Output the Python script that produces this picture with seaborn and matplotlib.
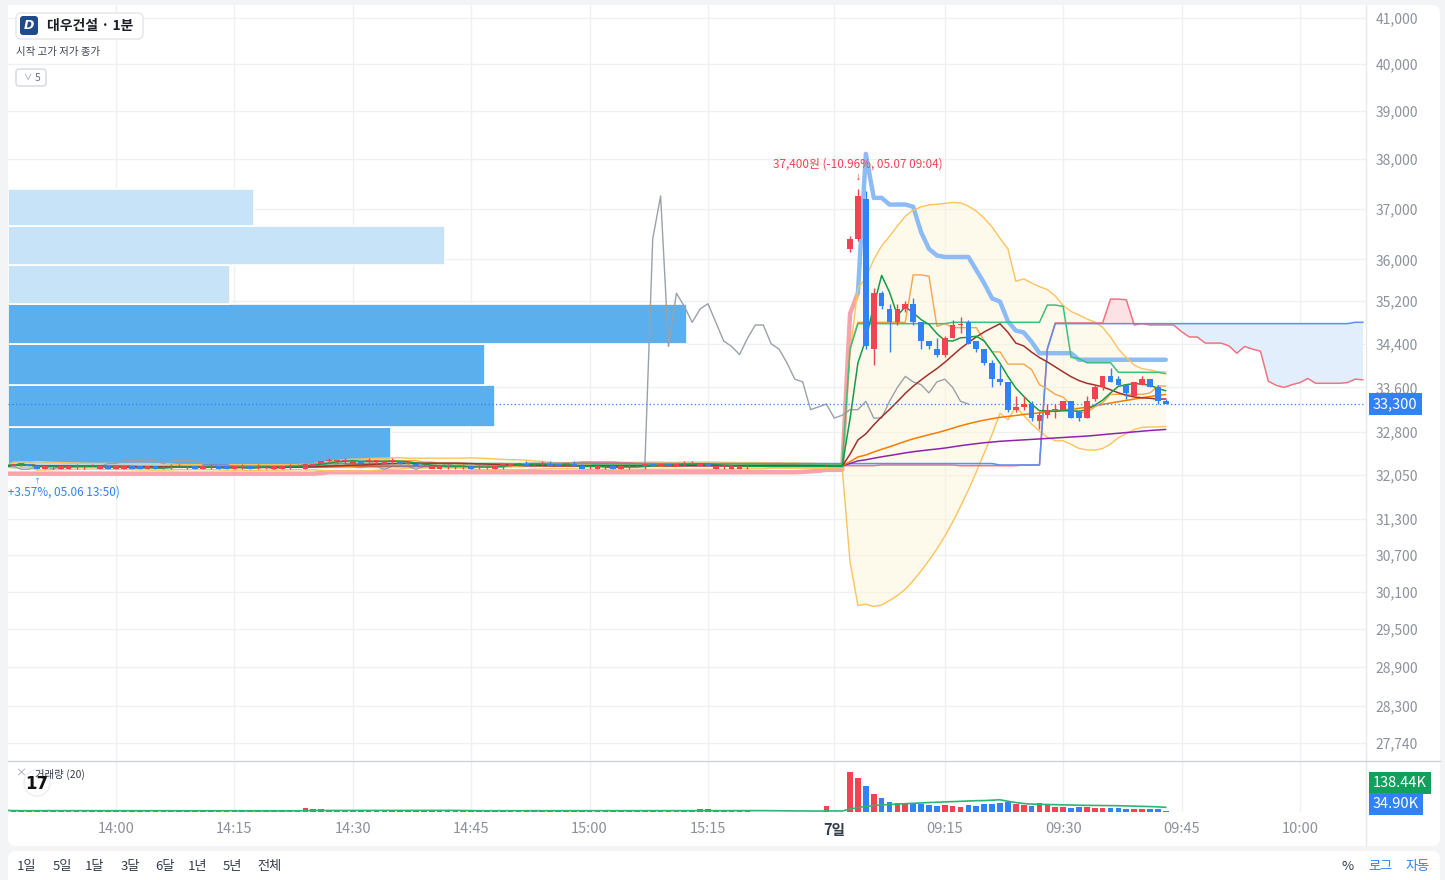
import numpy as np
import pandas as pd
import matplotlib
matplotlib.use("Agg")
import matplotlib.pyplot as plt
import matplotlib.transforms as mtrans
from matplotlib.patches import FancyBboxPatch, Rectangle, Circle
from matplotlib.lines import Line2D
from matplotlib.ticker import FixedLocator, NullLocator, FuncFormatter
import seaborn as sns

sns.set_theme(style="white")
# Korean text needs a CJK family, DejaVu as fallback for symbols
plt.rcParams['font.family'] = ['Noto Sans CJK KR', 'DejaVu Sans']
plt.rcParams['axes.unicode_minus'] = False

# ---------------- data ----------------
# bar index: 14:00 on 05.06 is bar 0, one bar per minute (TradingView style axis)
first_idx = -14

# 05.06 13:46 .. 15:20 (95 one-minute bars)
o1 = [32250, 32200, 32250, 32250, 32200, 32150, 32200, 32150, 32150, 32200, 32200, 32200, 32150, 32200,
      32150, 32150, 32200, 32200, 32150, 32200, 32200, 32200, 32200, 32200, 32200, 32150, 32200, 32200,
      32200, 32150, 32200, 32200, 32200, 32200, 32150, 32150, 32200, 32200,
      32150, 32200, 32250, 32300, 32300, 32300, 32250, 32300, 32300, 32300, 32250, 32300, 32300, 32250,
      32250, 32200, 32150, 32150, 32200, 32200, 32200, 32200, 32200, 32200, 32150, 32200, 32200, 32250,
      32250, 32250, 32250, 32250, 32250, 32250, 32250, 32200, 32200, 32150, 32200, 32200, 32150, 32200,
      32200, 32200, 32250, 32200, 32250, 32200, 32250, 32250, 32200, 32250, 32150, 32200, 32150, 32150,
      32200]
h1 = [32250, 32250, 32250, 32250, 32200, 32200, 32200, 32200, 32200, 32250, 32200, 32250, 32200, 32200,
      32200, 32200, 32200, 32200, 32200, 32200, 32200, 32250, 32250, 32200, 32200, 32200, 32250, 32200,
      32200, 32200, 32250, 32200, 32250, 32200, 32200, 32200, 32250, 32250,
      32250, 32250, 32300, 32350, 32300, 32350, 32300, 32300, 32350, 32300, 32300, 32350, 32300, 32300,
      32250, 32250, 32200, 32200, 32250, 32200, 32250, 32200, 32250, 32200, 32200, 32250, 32250, 32250,
      32300, 32250, 32300, 32300, 32250, 32250, 32300, 32250, 32200, 32250, 32200, 32250, 32200, 32250,
      32250, 32250, 32250, 32250, 32250, 32250, 32300, 32300, 32250, 32250, 32200, 32250, 32200, 32200,
      32250]
l1 = [32200, 32200, 32200, 32200, 32150, 32150, 32150, 32150, 32150, 32150, 32150, 32200, 32150, 32150,
      32150, 32150, 32150, 32150, 32150, 32150, 32150, 32150, 32200, 32150, 32150, 32150, 32150, 32150,
      32150, 32150, 32150, 32150, 32150, 32150, 32150, 32150, 32150, 32200,
      32150, 32200, 32250, 32250, 32250, 32250, 32250, 32250, 32250, 32250, 32250, 32250, 32250, 32250,
      32250, 32200, 32200, 32150, 32150, 32150, 32150, 32150, 32150, 32150, 32150, 32150, 32200, 32200,
      32200, 32200, 32200, 32250, 32200, 32200, 32200, 32200, 32150, 32150, 32150, 32150, 32150, 32150,
      32200, 32150, 32200, 32200, 32200, 32200, 32200, 32250, 32200, 32200, 32150, 32150, 32150, 32150,
      32150]
c1 = [32200, 32250, 32250, 32200, 32150, 32200, 32200, 32200, 32200, 32200, 32200, 32200, 32200, 32150,
      32200, 32200, 32150, 32150, 32200, 32150, 32200, 32200, 32200, 32200, 32150, 32200, 32200, 32150,
      32150, 32200, 32200, 32150, 32200, 32200, 32200, 32200, 32200, 32200,
      32250, 32250, 32300, 32300, 32300, 32300, 32300, 32250, 32300, 32300, 32300, 32300, 32250, 32250,
      32200, 32200, 32200, 32200, 32200, 32200, 32200, 32150, 32200, 32200, 32200, 32250, 32250, 32250,
      32200, 32250, 32250, 32200, 32200, 32250, 32200, 32150, 32200, 32200, 32200, 32150, 32200, 32200,
      32200, 32250, 32200, 32250, 32200, 32250, 32250, 32250, 32250, 32200, 32200, 32200, 32200, 32200,
      32200]
v1 = [45, 38, 30, 42, 55, 35, 32, 40, 36, 30, 34, 41, 38, 44,
      36, 40, 47, 39, 33, 42, 30, 28, 35, 31, 44, 37, 29, 41, 46, 38, 30, 43, 32, 29, 40, 37, 31, 35,
      118, 92, 80, 44, 39, 36, 48, 42, 33, 31, 45, 30, 50, 38,
      41, 35, 44, 40, 30, 29, 33, 46, 31, 30, 42, 48, 52, 35, 44, 30, 32, 47, 45, 31,
      43, 49, 30, 41, 29, 46, 38, 30, 33, 50, 44, 47, 41, 46, 32, 30, 95, 88, 44, 36,
      41, 39, 35]

# closing auction bars (no trades) and 05.07 09:00 .. 09:02
o_gap = [32200, 32200, 32200, 32200, 32200, 32200, 32200, 32200, 32200, 32200, 32200, 32200]
h_gap = [32200, 32200, 32200, 32200, 32200, 32200, 32200, 32200, 32200, 32250, 32200, 32200]
l_gap = [32200, 32200, 32200, 32200, 32200, 32200, 32200, 32200, 32200, 32200, 32200, 32200]
c_gap = [32200, 32200, 32200, 32200, 32200, 32200, 32200, 32200, 32200, 32200, 32200, 32200]
v_gap = [0, 0, 0, 0, 0, 0, 0, 0, 0, 177, 0, 0]

# 05.07 09:03 .. 09:43
o2 = [36200, 36400, 37200, 34300, 35350, 35050, 34800, 35050, 35150, 34800, 34450, 34300, 34200, 34500,
      34750, 34800, 34450, 34300, 34050, 33750, 33700, 33200, 33250, 33300, 33000, 33100, 33200, 33200,
      33350, 33150, 33050, 33400, 33600, 33800, 33750, 33650, 33450, 33650, 33750, 33600, 33350]
h2 = [36450, 37400, 37350, 35450, 35400, 35150, 35150, 35200, 35250, 34800, 34450, 34500, 34550, 34850,
      34900, 34850, 34450, 34300, 34100, 34000, 33700, 33450, 33450, 33350, 33150, 33300, 33300, 33350,
      33350, 33200, 33450, 33650, 33800, 33950, 33800, 33650, 33700, 33800, 33750, 33650, 33400]
l2 = [36150, 36350, 34300, 34000, 35050, 34250, 34750, 35000, 34750, 34300, 34300, 34150, 34150, 34500,
      34600, 34400, 34250, 34000, 33600, 33650, 33150, 33150, 33200, 33000, 32850, 33050, 33050, 33200,
      33050, 33000, 33050, 33350, 33550, 33700, 33650, 33400, 33450, 33650, 33600, 33300, 33300]
c2 = [36400, 37250, 34350, 35350, 35100, 34800, 35050, 35150, 34800, 34450, 34350, 34200, 34500, 34750,
      34750, 34400, 34300, 34050, 33750, 33700, 33200, 33250, 33300, 33050, 33100, 33200, 33200, 33350,
      33050, 33050, 33350, 33600, 33800, 33700, 33650, 33500, 33700, 33750, 33600, 33350, 33300]
# volume in thousand shares
v2 = [1180, 1000, 770, 530, 410, 300, 265, 235, 265, 235, 205, 180, 205, 180,
      150, 205, 180, 235, 235, 265, 295, 235, 205, 180, 265, 205, 150, 150,
      120, 150, 150, 113.9, 120, 120, 120, 90, 90, 90, 90, 90, 34.9]

hi_time = "05.07 09:04"
lo_time = "05.06 13:50"

# volume profile rows, bottom to top (thousand shares)
vp_volume = [5640, 7170, 7020, 10000, 3270, 6430, 3620]
vp_value_area = [True, True, True, True, False, False, False]

# axis ticks
x_tick_pos = [0, 15, 30, 45, 60, 75, 91, 105, 120, 135, 150]
x_tick_lab = ["14:00", "14:15", "14:30", "14:45", "15:00", "15:15", "7일", "09:15", "09:30", "09:45", "10:00"]
y_ticks = [41000, 40000, 39000, 38000, 37000, 36000, 35200, 34400, 33600, 32800, 32050,
           31300, 30700, 30100, 29500, 28900, 28300, 27740]
periods = ["1일", "5일", "1달", "3달", "6달", "1년", "5년", "전체"]

# ---------------- indicators ----------------
o = np.array(o1 + o_gap + o2, float)
h = np.array(h1 + h_gap + h2, float)
l = np.array(l1 + l_gap + l2, float)
c = np.array(c1 + c_gap + c2, float)
v = np.array(v1 + v_gap + v2, float)
idx = np.arange(first_idx, first_idx + len(c))
df = pd.DataFrame(dict(o=o, h=h, l=l, c=c, v=v), index=idx)

for n_ in (5, 20, 60, 120):
    df[f"sma{n_}"] = df.c.rolling(n_, min_periods=1).mean()
std20 = df.c.rolling(20, min_periods=1).std(ddof=0)
df["bb_up"] = df.sma20 + 2 * std20
df["bb_lo"] = df.sma20 - 2 * std20

def mid(n_):
    return (df.h.rolling(n_, min_periods=1).max() + df.l.rolling(n_, min_periods=1).min()) / 2

tenkan = mid(9)
kijun = mid(26)
shift = 25
ext = np.arange(idx[0], idx[-1] + shift + 1)
span_a = pd.Series(((tenkan + kijun) / 2).values, index=idx + shift).reindex(ext).values
span_b = pd.Series(mid(52).values, index=idx + shift).reindex(ext).values

# supertrend (10, 3)
prev_c = df.c.shift(1)
tr = pd.concat([df.h - df.l, (df.h - prev_c).abs(), (df.l - prev_c).abs()], axis=1).max(axis=1)
atr = tr.ewm(alpha=1 / 10, adjust=False).mean()
hl2 = (df.h + df.l) / 2
bu = (hl2 + 3 * atr).values
bl = (hl2 - 3 * atr).values
fu, fl = bu.copy(), bl.copy()
trend = np.ones(len(df), int)
cc = df.c.values
for i in range(1, len(df)):
    fu[i] = bu[i] if (bu[i] < fu[i - 1] or cc[i - 1] > fu[i - 1]) else fu[i - 1]
    fl[i] = bl[i] if (bl[i] > fl[i - 1] or cc[i - 1] < fl[i - 1]) else fl[i - 1]
    if trend[i - 1] == 1 and cc[i] < fl[i]:
        trend[i] = -1
    elif trend[i - 1] == -1 and cc[i] > fu[i]:
        trend[i] = 1
    else:
        trend[i] = trend[i - 1]
st = np.where(trend == 1, fl, fu)
st_up = np.where(trend == 1, st, np.nan)
st_dn = np.where(trend == -1, st, np.nan)
for i in range(1, len(df)):
    if trend[i] != trend[i - 1]:
        if trend[i] == -1:
            st_dn[i - 1] = st[i - 1]
        else:
            st_up[i - 1] = st[i - 1]

df["vol_ma"] = df.v.rolling(20, min_periods=1).mean()

# ---------------- figure ----------------
W, H = 1445, 880
fig = plt.figure(figsize=(W / 100, H / 100), dpi=100, facecolor="#f3f4f6")
ident = mtrans.IdentityTransform()

def box(x0, y0, x1, y1):
    return [x0 / W, 1 - y1 / H, (x1 - x0) / W, (y1 - y0) / H]

def rbox(x0, y0, x1, y1, r, **kw):
    p = FancyBboxPatch((x0, H - y1), x1 - x0, y1 - y0,
                       boxstyle=f"round,pad=0,rounding_size={r}", transform=ident, **kw)
    fig.add_artist(p)
    return p

def ftext(x, y, s, **kw):
    return fig.text(x / W, 1 - y / H, s, **kw)

def fline(x0, y0, x1, y1, **kw):
    fig.add_artist(Line2D([x0 / W, x1 / W], [1 - y0 / H, 1 - y1 / H], transform=fig.transFigure, **kw))

# white panels
rbox(8, 5, 1440, 846, 8, fc="white", ec="none", zorder=-5)
rbox(8, 851, 1440, 895, 8, fc="white", ec="none", zorder=-5)

ax = fig.add_axes(box(8, 5, 1366, 760))
vax = fig.add_axes(box(8, 762, 1366, 812), sharex=ax)
for a in (ax, vax):
    a.set_facecolor("white")
    for s in a.spines.values():
        s.set_visible(False)

RED, BLUE = "#f04452", "#3182f6"
x0_lim = -108 / 7.893
ax.set_xlim(x0_lim, x0_lim + 1358 / 7.893)

ax.set_yscale("log")
ax.set_ylim(41000 * np.exp(-742 / 1856), 41000 * np.exp(13 / 1856))
ax.yaxis.set_major_locator(FixedLocator(y_ticks))
ax.yaxis.set_minor_locator(NullLocator())
ax.yaxis.set_major_formatter(FuncFormatter(lambda val, _: f"{val:,.0f}"))
ax.yaxis.tick_right()
ax.tick_params(axis="y", length=0, pad=7, labelsize=10, labelcolor="#8b929c")
ax.set_xticks(x_tick_pos)
ax.tick_params(axis="x", length=0, labelbottom=False)
ax.grid(True, color="#eff0f2", lw=1)
ax.set_axisbelow(True)

# volume profile (rows from the visible low to high)
lo, hi = df.l.min(), df.h.max()
rows = np.linspace(lo, hi, len(vp_volume) + 1)
vp_tr = mtrans.blended_transform_factory(ax.transAxes, ax.transData)
vmax_vp = max(vp_volume)
for k, vol in enumerate(vp_volume):
    ax.add_patch(Rectangle((0, rows[k]), 0.5 * vol / vmax_vp, rows[k + 1] - rows[k], transform=vp_tr,
                           fc="#5aafec" if vp_value_area[k] else "#c6e3f8", ec="white", lw=1.2, zorder=1))

# bollinger fill and ichimoku cloud
ax.fill_between(idx, df.bb_lo, df.bb_up, color="#fdf5df", alpha=0.6, lw=0, zorder=1.5)
ax.fill_between(ext, span_a, span_b, where=span_a >= span_b, color="#fde2e5", lw=0, zorder=1.6, interpolate=True)
ax.fill_between(ext, span_a, span_b, where=span_a < span_b, color="#e3eefc", lw=0, zorder=1.6, interpolate=True)

# lines
ax.plot(idx - shift, df.c, color="#9aa1aa", lw=1.0, zorder=2.4)
ax.plot(ext, span_a, color="#f27281", lw=1.1, zorder=2.5)
ax.plot(ext, span_b, color="#5b8ff0", lw=1.1, zorder=2.5)
ax.plot(idx, st_up, color="#f6a3ab", lw=3.2, zorder=2.2, solid_capstyle="round")
ax.plot(idx, st_dn, color="#8dbbf6", lw=3.2, zorder=2.2, solid_capstyle="round")
sns.lineplot(x=idx, y=df.bb_up.values, ax=ax, color="#fcc35c", lw=1.0, zorder=2.3)
sns.lineplot(x=idx, y=df.bb_lo.values, ax=ax, color="#fcc35c", lw=1.0, zorder=2.3)
sns.lineplot(x=idx, y=df.sma120.values, ax=ax, color="#8e24aa", lw=1.1, zorder=2.6)
sns.lineplot(x=idx, y=df.sma60.values, ax=ax, color="#f57c00", lw=1.1, zorder=2.6)
sns.lineplot(x=idx, y=tenkan.values, ax=ax, color="#f6a54a", lw=1.0, zorder=2.6)
sns.lineplot(x=idx, y=kijun.values, ax=ax, color="#3cbf7d", lw=1.1, zorder=2.6)
sns.lineplot(x=idx, y=df.sma20.values, ax=ax, color="#a0322d", lw=1.1, zorder=2.7)
sns.lineplot(x=idx, y=df.sma5.values, ax=ax, color="#139c4b", lw=1.1, zorder=2.7)

# candles (bars with trades only)
cd = df[df.v > 0]
col = np.where(cd.c >= cd.o, RED, BLUE)
ax.vlines(cd.index, cd.l, cd.h, colors=col, lw=1, zorder=4)
ax.bar(cd.index, np.maximum((cd.c - cd.o).abs(), 12), bottom=np.minimum(cd.o, cd.c),
       width=0.72, color=col, lw=0, zorder=4)

# last price line and label
last = df.c.iloc[-1]
ax.axhline(last, color=BLUE, ls=(0, (1, 2)), lw=0.9, zorder=3)
lab_tr = mtrans.blended_transform_factory(ax.transAxes, ax.transData)
ax.text(1 + 7 / 1358, last, f"{last:,.0f}", transform=lab_tr, ha="left", va="center", color="white",
        fontsize=10.5, clip_on=False, bbox=dict(boxstyle="square,pad=0.3", fc=BLUE, ec="none"))

# high / low markers
i_hi, i_lo = df.h.idxmax(), df.l.idxmin()
pct_hi = np.trunc((last - hi) / hi * 10000) / 100
pct_lo = np.trunc((last - lo) / lo * 10000) / 100
ax.annotate(f"{hi:,.0f}원 ({pct_hi:+.2f}%, {hi_time})", xy=(i_hi, hi), xytext=(0, 18),
            textcoords="offset points", ha="center", va="center", color=RED, fontsize=8.5, zorder=6)
ax.annotate("↓", xy=(i_hi, hi), xytext=(0, 8), textcoords="offset points", ha="center", va="center",
            color=RED, fontsize=5, zorder=6)
ax.annotate(f"{lo:,.0f}원 ({pct_lo:+.2f}%, {lo_time})", xy=(i_lo, lo), xytext=(0, -16.5),
            textcoords="offset points", ha="center", va="center", color=BLUE, fontsize=8.5,
            clip_on=True, zorder=6)
ax.annotate("↑", xy=(i_lo, lo), xytext=(0, -8.5), textcoords="offset points", ha="center", va="center",
            color=BLUE, fontsize=5, zorder=6)

# ---------------- volume pane ----------------
vcol = np.where(df.c >= df.o, RED, BLUE)
vax.bar(idx, df.v, width=0.72, color=vcol, lw=0, zorder=2)
sns.lineplot(x=idx, y=df.vol_ma.values, ax=vax, color="#2bb673", lw=1.2, zorder=3)
vax.set_ylim(0, df.v.max() / 0.8)
vax.set_yticks([])
vax.set_xticks(x_tick_pos)
vax.set_xticklabels(x_tick_lab)
vax.tick_params(axis="x", length=0, pad=7, labelsize=10.5, labelcolor="#8b929c")
for t in vax.get_xticklabels():
    if t.get_text() == "7일":
        t.set_fontweight("bold")
        t.set_color("#333d4b")
vax.grid(True, axis="x", color="#eff0f2", lw=1)
vax.set_axisbelow(True)
vax.set_xlabel("")
vax.set_ylabel("")
ax.set_xlabel("")
ax.set_ylabel("")

vma_last, v_last = df.vol_ma.iloc[-1], df.v.iloc[-1]
vax.text(1 + 7 / 1358, (812 - 783) / 50, f"{vma_last:.2f}K", transform=vax.transAxes, ha="left",
         va="center", color="white", fontsize=10.5, clip_on=False,
         bbox=dict(boxstyle="square,pad=0.25", fc="#12a15c", ec="none"))
vax.text(1 + 7 / 1358, (812 - 804) / 50, f"{v_last:.2f}K", transform=vax.transAxes, ha="left",
         va="center", color="white", fontsize=10.5, clip_on=False,
         bbox=dict(boxstyle="square,pad=0.25", fc=BLUE, ec="none"))

# separators
fline(1366, 5, 1366, 846, color="#e6e8eb", lw=1)
fline(8, 761, 1440, 761, color="#cfd3d8", lw=1)

# ---------------- header / legend ----------------
rbox(16, 13, 143, 39, 5, fc="white", ec="#e3e5e8", lw=1, zorder=2)
rbox(20, 16, 38, 35, 3, fc="#1f4b86", ec="none", zorder=2.5)
ftext(29, 25.5, "D", ha="center", va="center", color="white", fontsize=9, fontweight="bold",
      fontstyle="italic", family="DejaVu Sans", zorder=3)
ftext(47, 26, "대우건설 · 1분", ha="left", va="center", color="#1b1e24", fontsize=10, fontweight="bold")
ftext(16, 52, "시작 고가 저가 종가", ha="left", va="center", color="#3b4350", fontsize=7.5)
rbox(16, 69, 46, 86, 3, fc="white", ec="#d5d8dc", lw=1, zorder=2)
ftext(27, 77.5, "∨", ha="center", va="center", color="#8b929c", fontsize=6)
ftext(38, 78, "5", ha="center", va="center", color="#6b7280", fontsize=7.5)

# volume legend and logo
fig.add_artist(Circle((37, H - 783), 13, transform=ident, fc="none", ec="#eceef1", lw=1, zorder=2))
ftext(21, 773, "×", ha="center", va="center", color="#9aa1aa", fontsize=8)
ftext(35, 774, "거래량 (20)", ha="left", va="center", color="#333d4b", fontsize=7.5)
ftext(37, 784, "17", ha="center", va="center", color="#111111", fontsize=12, fontweight="heavy",
      family="DejaVu Sans")

# bottom toolbar
px_period = [27, 62, 95, 130, 165, 198, 232, 269]
for xp, s in zip(px_period, periods):
    ftext(xp, 866, s, ha="center", va="center", color="#333d4b", fontsize=9.5)
ftext(1348, 866, "%", ha="center", va="center", color="#333d4b", fontsize=9.5)
ftext(1380, 866, "로그", ha="center", va="center", color=BLUE, fontsize=9.5)
ftext(1418, 866, "자동", ha="center", va="center", color=BLUE, fontsize=9.5)

fig.savefig("out.png", dpi=100, facecolor=fig.get_facecolor())
